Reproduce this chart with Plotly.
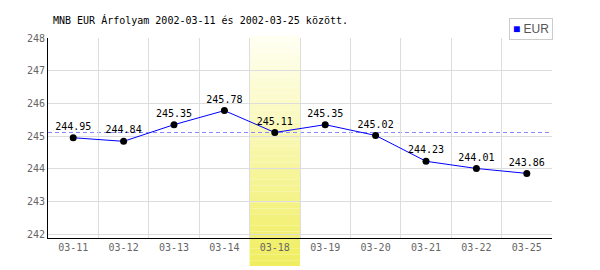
import plotly.graph_objects as go

categories = ["03-11", "03-12", "03-13", "03-14", "03-18", "03-19", "03-20", "03-21", "03-22", "03-25"]
values = [244.95, 244.84, 245.35, 245.78, 245.11, 245.35, 245.02, 244.23, 244.01, 243.86]
highlight_index = 4
y_ticks = [242, 243, 244, 245, 246, 247, 248]
title_text = "MNB EUR Árfolyam 2002-03-11 és 2002-03-25 között."
series_name = "EUR"

mono = "DejaVu Sans Mono, Liberation Mono, monospace"

fig = go.Figure()

fig.add_trace(go.Scatter(
    x=categories, y=values, mode="lines+markers+text",
    line=dict(color="#0000ff", width=1),
    marker=dict(color="#000000", size=7),
    text=[f"{v:.2f}" for v in values],
    textposition="top center",
    textfont=dict(family=mono, size=10, color="#000000"),
    showlegend=False, cliponaxis=False,
))

# gradient highlight band
n = 40
top_c = (255, 255, 242)
bot_c = (240, 238, 96)
y_top = 1.01
y_bot = -0.14
for i in range(n):
    t = i / (n - 1)
    r = round(top_c[0] + (bot_c[0] - top_c[0]) * t)
    g = round(top_c[1] + (bot_c[1] - top_c[1]) * t)
    b = round(top_c[2] + (bot_c[2] - top_c[2]) * t)
    ya = y_top - (y_top - y_bot) * i / n
    yb = y_top - (y_top - y_bot) * (i + 1) / n
    fig.add_shape(type="rect", xref="x", yref="paper",
                  x0=highlight_index - 0.5, x1=highlight_index + 0.5,
                  y0=yb, y1=ya, fillcolor=f"rgb({r},{g},{b})",
                  line=dict(width=0), layer="below")

fig.add_shape(type="line", xref="paper", yref="y", x0=0, x1=1,
              y0=values[highlight_index], y1=values[highlight_index],
              line=dict(color="#8888ff", width=1, dash="4px,3px"), layer="between")

# legend box
fig.add_annotation(
    xref="paper", yref="paper", x=1 + 1 / 504, y=1 + 20 / 200,
    xanchor="right", yanchor="top", showarrow=False,
    text=f"<span style='color:#0000ff'>■</span> {series_name}",
    font=dict(family="Liberation Sans, Arial", size=12, color="#555555"),
    bordercolor="#cccccc", borderwidth=1, borderpad=3, bgcolor="white",
)

fig.update_layout(
    width=600, height=270,
    margin=dict(l=48, r=48, t=38, b=32),
    paper_bgcolor="white", plot_bgcolor="rgba(0,0,0,0)",
    title=dict(text=title_text, x=53/600, xanchor="left", y=1 - 20/270, yanchor="middle",
               font=dict(family=mono, size=10, color="#000000")),
    showlegend=False,
)
fig.update_xaxes(
    type="category", range=[-0.5, len(categories) - 0.5],
    tickson="boundaries", showgrid=True, gridcolor="#dddddd", gridwidth=1,
    showline=True, linecolor="#000000", linewidth=1,
    ticks="", tickfont=dict(family=mono, size=10, color="#666666"),
    fixedrange=True,
)
fig.update_yaxes(
    range=[241.884, 248], tickvals=y_ticks, ticktext=[str(v) for v in y_ticks],
    showgrid=True, gridcolor="#dddddd", gridwidth=1,
    showline=True, linecolor="#000000", linewidth=1,
    ticks="", tickfont=dict(family=mono, size=10, color="#666666"),
    zeroline=False, fixedrange=True,
)

fig.write_html("out.html", config={"displayModeBar": False})
